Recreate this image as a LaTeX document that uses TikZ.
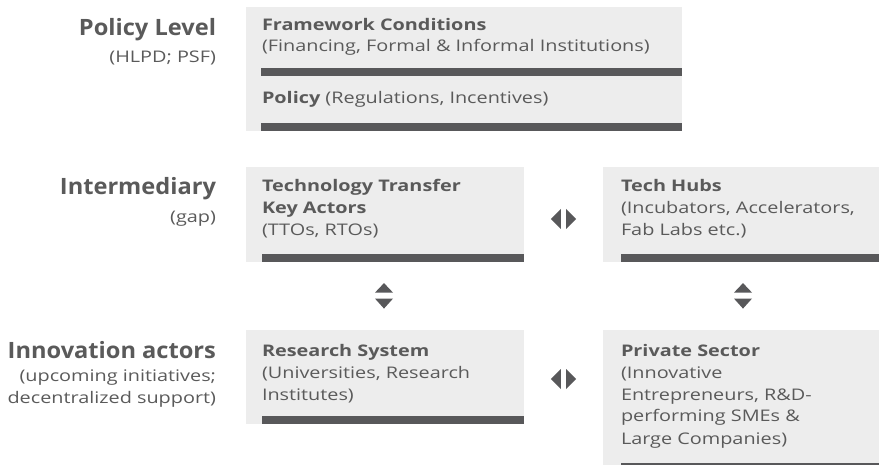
\documentclass[tikz,border=0pt]{standalone}
\usepackage{fontspec}
\setmainfont{Open Sans}[FakeStretch=1.24]
\newfontfamily\lvlfamily{Open Sans}[FakeStretch=1.05]
\usetikzlibrary{calc}
\definecolor{boxfill}{HTML}{EDEDED}
\definecolor{barcol}{HTML}{58585A}
\definecolor{txt}{HTML}{5A5A5A}
\newcommand\bodyfnt{\fontsize{16}{21.7}\selectfont}
\newcommand\lvlfnt{\lvlfamily\fontsize{22.5}{26}\selectfont\bfseries}
\begin{document}
\begin{tikzpicture}[x=1pt,y=-1pt,
  every node/.style={inner sep=0pt, outer sep=0pt, text=txt},
  panel/.style={fill=boxfill, draw=none, anchor=north west},
  barfill/.style={fill=barcol},
  body/.style={anchor=base west, font=\bodyfnt},
  head/.style={anchor=base west, font=\bodyfnt\bfseries},
  lvl/.style={anchor=base east, font=\lvlfnt},
  sub/.style={anchor=base east, font=\bodyfnt},
  lrpair/.pic={\fill[barcol] (-2.7,-10) -- (-2.7,10) -- (-12.7,0) -- cycle;
               \fill[barcol] (2.7,-10) -- (2.7,10) -- (12.7,0) -- cycle;},
  udpair/.pic={\fill[barcol] (-9,-3) -- (9,-3) -- (0,-12.5) -- cycle;
               \fill[barcol] (-9,3) -- (9,3) -- (0,13) -- cycle;}
]
\useasboundingbox (0,0) rectangle (879,465);

% panels
\node[panel, minimum width=436pt, minimum height=124pt] (pol) at (246,7) {};
\node[panel, minimum width=278pt, minimum height=95pt] (tt) at (246,167) {};
\node[panel, minimum width=276pt, minimum height=95pt] (th) at (603,167) {};
\node[panel, minimum width=278pt, minimum height=94pt] (rs) at (246,330) {};
\node[panel, minimum width=276pt, minimum height=135pt] (ps) at (603,330) {};

% bars
\fill[barfill] (261,68) rectangle (pol.east |- 0,76);
\fill[barfill] (261,123) rectangle (pol.south east);
\fill[barfill] (262,254) rectangle (tt.south east);
\fill[barfill] (621,254) rectangle (th.south east);
\fill[barfill] (262,416) rectangle (rs.south east);
\fill[barfill] (621,463) rectangle (ps.south east);

% level labels
\node[lvl] (l1) at (216,35.5) {Policy Level};
\node[sub] (l1s) at (216,63) {(HLPD; PSF)};
\node[lvl] (l2) at (216,195) {Intermediary};
\node[sub] (l2s) at (216,223) {(gap)};
\node[lvl] (l3) at (216,359) {Innovation actors};
\node[sub] (l3s) at (216,381.7) {(upcoming initiatives;};
\node[sub] (l3t) at (216,403.3) {decentralized support)};

% policy panel
\node[head] (fc) at (262,30.7) {Framework Conditions};
\node[body] (fc2) at (262,51.7) {(Financing, Formal \& Informal Institutions)};
\node[body] (po) at (262,104) {\textbf{Policy} (Regulations, Incentives)};

% tech transfer
\node[head] (tt1) at (262,191.7) {Technology Transfer};
\node[head] (tt2) at (262,213.3) {Key Actors};
\node[body] (tt3) at (262,236) {(TTOs, RTOs)};

% tech hubs
\node[head] (th1) at (621,191.7) {Tech Hubs};
\node[body] (th2) at (621,213.3) {(Incubators, Accelerators,};
\node[body] (th3) at (621,236) {Fab Labs etc.)};

% research system
\node[head] (rs1) at (262,356) {Research System};
\node[body] (rs2) at (262,378.3) {(Universities, Research};
\node[body] (rs3) at (262,400) {Institutes)};

% private sector
\node[head] (ps1) at (621,356) {Private Sector};
\node[body] (ps2) at (621,378.3) {(Innovative};
\node[body] (ps3) at (621,400) {Entrepreneurs, R\&D-};
\node[body] (ps4) at (621,421.7) {performing SMEs \&};
\node[body] (ps5) at (621,444) {Large Companies)};

% double arrows
\pic at (563.5,219) {lrpair};
\pic at (563.5,379) {lrpair};
\pic at (384,295.6) {udpair};
\pic at (743,295.6) {udpair};
\end{tikzpicture}
\end{document}
